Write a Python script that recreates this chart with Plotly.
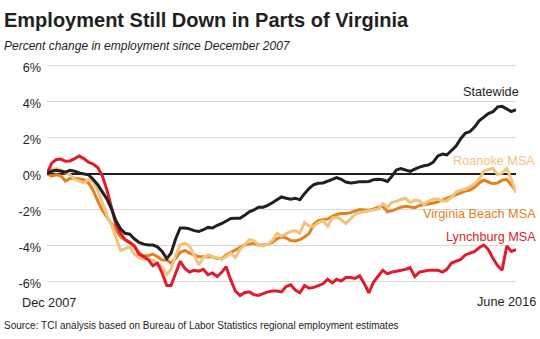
import pandas as pd
import plotly.graph_objects as go

months = pd.date_range("2007-12-01", periods=103, freq="MS")

statewide = [0, 0.15, 0.2, 0.15, 0.1, 0.2, 0.15, 0.05, 0.0, -0.05, -0.3, -0.6, -1.0, -1.4, -1.95,
             -2.6, -3.05, -3.3, -3.35, -3.6, -3.8, -3.9, -3.95, -3.95, -4.05, -4.3, -4.7, -4.4, -3.6,
             -3.0, -3.0, -3.05, -3.15, -3.2, -3.1, -2.97, -3.0, -2.85, -2.75, -2.6, -2.47, -2.46, -2.46,
             -2.3, -2.1, -2.0, -1.85, -1.85, -1.75, -1.6, -1.45, -1.28, -1.35, -1.4, -1.35, -1.44, -1.1,
             -0.8, -0.6, -0.52, -0.5, -0.38, -0.3, -0.2, -0.3, -0.45, -0.5, -0.48, -0.43, -0.43, -0.42,
             -0.32, -0.3, -0.33, -0.42, -0.15, 0.22, 0.3, 0.2, 0.14, 0.26, 0.38, 0.45, 0.5, 0.65, 1.0,
             1.1, 1.05, 1.3, 1.55, 1.95, 2.25, 2.35, 2.6, 2.95, 3.15, 3.35, 3.45, 3.72, 3.75, 3.6, 3.46, 3.56]

lynchburg = [0, 0.6, 0.8, 0.82, 0.7, 0.72, 0.85, 1.0, 0.85, 0.65, 0.55, 0.35, -0.1, -0.9, -1.9,
             -2.8, -3.3, -3.65, -3.8, -4.0, -4.45, -4.6, -4.75, -5.1, -4.95, -5.5, -6.2, -6.2, -5.5,
             -4.85, -5.25, -5.45, -5.35, -5.4, -5.3, -5.6, -5.5, -5.7, -5.45, -5.15, -5.9, -6.5, -6.75,
             -6.6, -6.55, -6.7, -6.75, -6.65, -6.55, -6.5, -6.5, -6.55, -6.25, -6.15, -6.45, -6.6, -6.2,
             -6.35, -6.3, -6.2, -6.1, -5.85, -6.05, -5.85, -5.95, -5.75, -5.75, -5.8, -5.65, -6.1, -6.6,
             -6.0, -5.7, -5.35, -5.55, -5.45, -5.4, -5.35, -5.3, -5.2, -5.7, -5.45, -5.4, -5.35, -5.35,
             -5.35, -5.45, -5.3, -4.95, -4.85, -4.75, -4.5, -4.4, -4.3, -4.1, -3.95, -4.2, -4.7, -5.1,
             -5.35, -4.0, -4.3, -4.2]

virginia_beach = [0, -0.12, -0.05, -0.1, -0.4, -0.25, -0.24, -0.27, -0.32, -0.5, -0.9, -1.5, -2.0,
                  -2.4, -2.74, -3.1, -3.5, -3.65, -3.85, -4.0, -4.4, -4.55, -4.55, -4.45, -4.6, -4.78,
                  -4.78, -4.95, -4.7, -4.35, -4.25, -4.4, -4.5, -4.6, -4.6, -4.6, -4.6, -4.7, -4.7, -4.5,
                  -4.35, -4.25, -4.1, -3.95, -3.9, -3.85, -3.95, -3.95, -3.9, -3.8, -3.6, -3.5, -3.55,
                  -3.7, -3.72, -3.65, -3.5, -3.3, -2.8, -2.6, -2.55, -2.5, -2.35, -2.25, -2.2, -2.2, -2.15,
                  -2.05, -1.98, -2.0, -2.02, -1.95, -1.85, -1.8, -2.1, -2.05, -1.95, -1.85, -1.8, -1.85,
                  -1.88, -1.75, -1.72, -1.68, -1.62, -1.55, -1.45, -1.35, -1.25, -1.15, -1.08, -0.95, -0.9,
                  -0.75, -0.5, -0.35, -0.45, -0.55, -0.5, -0.35, -0.3, -0.6, -0.95]

roanoke = [0, 0.25, 0.3, 0.22, 0.05, -0.05, -0.3, -0.4, -0.5, -0.3, -0.45, -0.9, -1.6, -2.3, -2.85,
           -3.5, -4.25, -4.15, -4.05, -4.45, -4.65, -4.75, -4.78, -4.78, -5.0, -5.15, -5.6, -5.3, -4.5,
           -3.95, -3.85, -4.0, -4.5, -5.05, -4.65, -4.5, -4.6, -4.65, -4.75, -4.56, -4.4, -4.65, -4.2,
           -3.95, -3.65, -3.7, -3.95, -4.0, -3.9, -3.7, -3.3, -3.45, -3.3, -3.2, -3.15, -3.3, -2.7,
           -2.9, -2.9, -2.7, -2.6, -2.9, -2.45, -2.4, -2.55, -2.75, -2.5, -2.25, -2.15, -2.1, -2.05,
           -2.0, -1.95, -1.65, -1.85, -1.6, -1.5, -1.42, -1.35, -1.6, -1.45, -1.5, -1.7, -1.5, -1.4,
           -1.4, -1.5, -1.5, -1.3, -1.0, -0.9, -0.85, -0.7, -0.55, -0.3, 0.15, 0.25, 0.3, -0.05, 0.05,
           0.3, -0.3, -1.05]

ytick_vals = [-6, -4, -2, 0, 2, 4, 6]
ytick_text = ["-6%", "-4%", "-2%", "0%", "2%", "4%", "6%"]

C_BLACK = "#231f20"
C_RED = "#e11b2b"
C_ORANGE = "#e4801f"
C_TAN = "#f0c47e"

W, H = 540, 339
L, R, T, B = 47, 24, 64, 39
PW, PH = W - L - R, H - T - B


def px(xp):
    return (xp - L) / PW


def py(yp):
    return (H - B - yp) / PH


fig = go.Figure()
for vals, col in [(virginia_beach, C_ORANGE), (roanoke, C_TAN), (lynchburg, C_RED), (statewide, C_BLACK)]:
    fig.add_trace(go.Scatter(x=months, y=vals, mode="lines",
                             line=dict(color=col, width=3, shape="linear"),
                             hoverinfo="skip", showlegend=False))

FONT = "Liberation Sans, Arial, sans-serif"
ann = []
ann.append(dict(text="<b>Employment Still Down in Parts of Virginia</b>", x=px(2), y=py(20),
                xanchor="left", yanchor="middle", font=dict(size=20, color="#231f20", family=FONT)))
ann.append(dict(text="<i>Percent change in employment since December 2007</i>", x=px(2), y=py(45.5),
                xanchor="left", yanchor="middle", font=dict(size=12, color="#231f20", family=FONT)))
ann.append(dict(text="Source: TCI analysis based on Bureau of Labor Statistics regional employment estimates",
                x=px(2), y=py(325), xanchor="left", yanchor="middle",
                font=dict(size=10, color="#231f20", family=FONT)))
ann.append(dict(text="Dec 2007", x=px(48.5), y=py(302.5), xanchor="center", yanchor="middle",
                font=dict(size=12.7, color="#231f20", family=FONT)))
ann.append(dict(text="June 2016", x=px(538), y=py(302), xanchor="right", yanchor="middle",
                font=dict(size=12.7, color="#231f20", family=FONT)))
ann.append(dict(text="Statewide", x=px(521), y=py(92), xanchor="right", yanchor="middle",
                font=dict(size=12.7, color="#231f20", family=FONT)))
ann.append(dict(text="Roanoke MSA", x=px(537), y=py(161), xanchor="right", yanchor="middle",
                font=dict(size=12.7, color=C_TAN, family=FONT)))
ann.append(dict(text="Virginia Beach MSA", x=px(538), y=py(214), xanchor="right", yanchor="middle",
                font=dict(size=12.7, color=C_ORANGE, family=FONT)))
ann.append(dict(text="Lynchburg MSA", x=px(538), y=py(236.5), xanchor="right", yanchor="middle",
                font=dict(size=12.7, color=C_RED, family=FONT)))
for a in ann:
    a.update(xref="paper", yref="paper", showarrow=False)

fig.update_layout(
    width=W, height=H, margin=dict(l=L, r=R, t=T, b=B, pad=0),
    paper_bgcolor="white", plot_bgcolor="white",
    font=dict(family=FONT, color="#231f20"),
    annotations=ann,
    xaxis=dict(range=[months[0], months[-1]], showgrid=False, zeroline=False, showline=False,
               showticklabels=False, ticks="", fixedrange=True),
    yaxis=dict(range=[-7, 6.1], tickvals=ytick_vals, ticktext=ytick_text,
               showgrid=True, gridcolor="#d9d9d9", gridwidth=1,
               zeroline=True, zerolinecolor="#231f20", zerolinewidth=1.6,
               showline=False, ticks="", ticklabelstandoff=5, ticklabelshift=2,
               tickfont=dict(size=12.7, color="#231f20", family=FONT), fixedrange=True),
)

fig.write_html("out.html", config={"displayModeBar": False})
